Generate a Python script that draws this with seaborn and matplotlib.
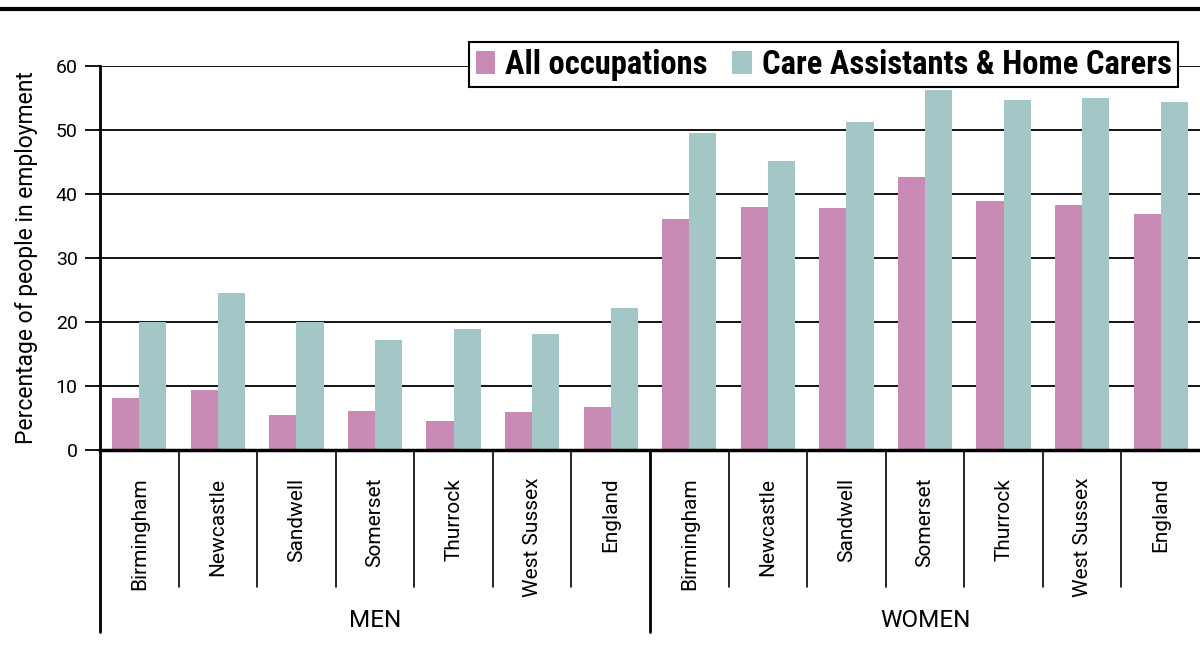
import numpy as np
import pandas as pd
import seaborn as sns
import matplotlib.pyplot as plt
from matplotlib.lines import Line2D
from matplotlib.patches import Patch

regions = ['Birmingham', 'Newcastle', 'Sandwell', 'Somerset', 'Thurrock', 'West Sussex', 'England']
sexes = ['MEN', 'WOMEN']
series = ['All occupations', 'Care Assistants & Home Carers']

men_all = [8.1, 9.4, 5.5, 6.1, 4.5, 5.9, 6.7]
men_care = [20.0, 24.5, 20.0, 17.2, 18.9, 18.2, 22.2]
women_all = [36.1, 38.0, 37.8, 42.7, 38.9, 38.3, 36.9]
women_care = [49.5, 45.2, 51.3, 56.3, 54.7, 55.0, 54.4]

colors = ['#C98AB5', '#A3C6C6']

sns.set_style('white')
plt.rcParams['font.family'] = ['Roboto', 'DejaVu Sans']
plt.rcParams.update({'text.color': 'black', 'axes.labelcolor': 'black',
                     'xtick.color': 'black', 'ytick.color': 'black',
                     'axes.edgecolor': 'black'})

# long table for seaborn
rows = []
for sex, a, c in [('MEN', men_all, men_care), ('WOMEN', women_all, women_care)]:
    for r, va, vc in zip(regions, a, c):
        key = sex + '|' + r
        rows.append((key, series[0], va))
        rows.append((key, series[1], vc))
df = pd.DataFrame(rows, columns=['key', 'series', 'value'])
order = [s + '|' + r for s in sexes for r in regions]

fig = plt.figure(figsize=(12, 6.57), dpi=100)
ax = fig.add_axes([100 / 1200, 207 / 657, 1100 / 1200, 384 / 657])

sns.barplot(data=df, x='key', y='value', hue='series', order=order, hue_order=series,
            palette=colors, width=0.69, gap=0, saturation=1, linewidth=0,
            ax=ax, legend=False)

ax.set_xlim(-0.5, 13.5)
ax.set_ylim(0, 60)
ax.set_yticks(range(0, 61, 10))
ax.yaxis.grid(True, color='black', linewidth=1.3)
ax.set_axisbelow(True)
ax.tick_params(axis='y', length=11, width=1.3, labelsize=14, pad=5, left=True)
ax.tick_params(axis='x', length=0, pad=20)
ax.set_xticks(range(14))
ax.set_xticklabels(regions * 2, rotation=90, fontsize=15, va='top', ha='center')
ax.set_xlabel('')
ax.set_ylabel('Percentage of people in employment', fontsize=16.5, labelpad=13)

for s in ['top', 'right']:
    ax.spines[s].set_visible(False)
ax.spines['left'].set_linewidth(2)
ax.spines['bottom'].set_linewidth(2.5)

# category separators below the axis
trans = ax.get_xaxis_transform()
for i in range(1, 14):
    if i == 7:
        continue
    ax.plot([i - 0.5, i - 0.5], [0, -0.357], color='black', lw=1.2, transform=trans, clip_on=False)
for x in [-0.5, 6.5]:
    ax.plot([x, x], [0, -0.474], color='black', lw=2, transform=trans, clip_on=False)

ax.text(3, -0.443, 'MEN', transform=trans, ha='center', va='center', fontsize=17.5)
ax.text(10, -0.443, 'WOMEN', transform=trans, ha='center', va='center', fontsize=17.5)

handles = [Patch(facecolor=c, edgecolor='none') for c in colors]
leg = ax.legend(handles, series, loc='upper right', bbox_to_anchor=(0.98, 1.0625), ncol=2,
                frameon=True, fancybox=False, edgecolor='black', framealpha=1,
                borderaxespad=0,
                prop={'family': 'Roboto Condensed', 'weight': 'bold', 'size': 23.5},
                handlelength=0.6, handleheight=0.7, handletextpad=0.3,
                columnspacing=0.75, borderpad=0.2)
leg.get_frame().set_linewidth(1.5)

fig.add_artist(Line2D([0, 1], [1 - 9 / 657, 1 - 9 / 657], color='black', lw=3))

fig.savefig('out.png', dpi=100)
